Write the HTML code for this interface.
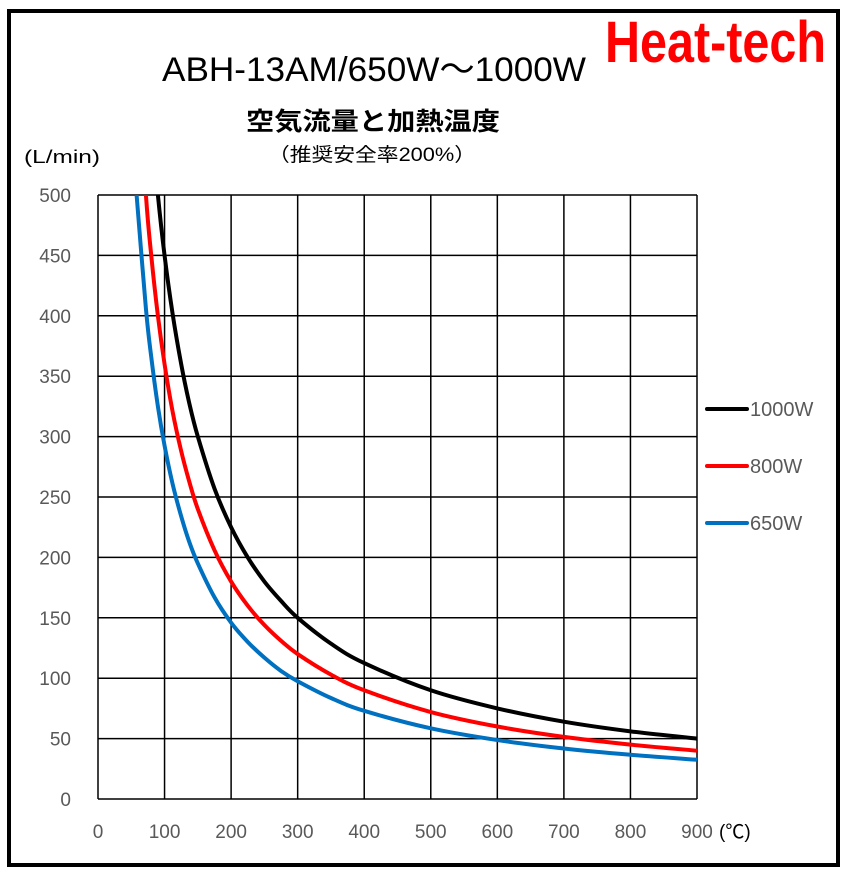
<!DOCTYPE html>
<html><head><meta charset="utf-8"><style>
html,body{margin:0;padding:0;background:#fff;}
body{width:847px;height:874px;overflow:hidden;position:relative;font-family:"Liberation Sans","Noto Sans CJK JP",sans-serif;}
</style></head><body>
<svg width="847" height="874" style="position:absolute;left:0;top:0">
<rect x="9" y="11" width="829" height="854" fill="#fff" stroke="#000" stroke-width="4"/>
<text x="605" y="62" font-family="Liberation Sans, sans-serif" font-weight="bold" font-size="58" fill="#ff0000" textLength="221" lengthAdjust="spacingAndGlyphs">Heat-tech</text>
<text x="162" y="81" font-size="34" fill="#000" textLength="424" lengthAdjust="spacingAndGlyphs">ABH-13AM/650W～1000W</text>
<text x="246" y="130" font-size="25" font-weight="bold" fill="#000" textLength="254" lengthAdjust="spacingAndGlyphs" font-family="Liberation Sans, Noto Sans CJK JP, sans-serif">空気流量と加熱温度</text>
<text x="268" y="161" font-size="19" fill="#000" textLength="208" lengthAdjust="spacingAndGlyphs" font-family="Liberation Sans, Noto Sans CJK JP, sans-serif">（推奨安全率200%）</text>
<text x="24" y="163" font-size="18" fill="#000" textLength="76" lengthAdjust="spacingAndGlyphs">(L/min)</text>
<g id="grid"></g>
<g id="marks"></g>
<g id="legend"></g>
<text x="719" y="838" font-size="19" fill="#000">(℃)</text>
</svg>
<script>
const xTicks=[0,100,200,300,400,500,600,700,800,900];
const yTicks=[0,50,100,150,200,250,300,350,400,450,500];
const temps=[58,72,80,90,100,112,125,137,150,175,200,225,250,275,300,350,400,500,600,700,800,900];
const s1000=[776,625,562,500,450,402,360,328,300,257,225,200,180,164,150,128.6,112.5,90,75,64,56,50];
const s800=[621,500,450,400,360,321,288,263,240,206,180,160,144,131,120,103,90,72,60,51.4,45,40];
const s650=[500,406,366,325,292.5,261,234,213,195,167,146,130,117,106,97.5,83.6,73,58.5,48.8,41.8,36.6,32.5];
const seriesNames=['1000W','800W','650W'];
const seriesData=[s1000,s800,s650];
const colors=['#000000','#ff0000','#0070c0'];
const X0=98,X1=697,Y0=799,Y1=195;
const sx=v=>X0+(v/900)*(X1-X0);
const sy=v=>Y0-(v/500)*(Y0-Y1);
const NS='http://www.w3.org/2000/svg';
const grid=document.getElementById('grid');
xTicks.forEach(t=>{
  const l=document.createElementNS(NS,'line');
  l.setAttribute('x1',sx(t));l.setAttribute('x2',sx(t));l.setAttribute('y1',Y1);l.setAttribute('y2',Y0);
  l.setAttribute('stroke','#000');l.setAttribute('stroke-width','1.5');
  
  
  grid.appendChild(l);
  const tx=document.createElementNS(NS,'text');
  tx.setAttribute('x',sx(t));tx.setAttribute('y',838);tx.setAttribute('text-anchor','middle');
  tx.setAttribute('font-size','19');tx.setAttribute('fill','#595959');tx.textContent=t;
  
  
  grid.appendChild(tx);
});
yTicks.forEach(t=>{
  const l=document.createElementNS(NS,'line');
  l.setAttribute('x1',X0);l.setAttribute('x2',X1);l.setAttribute('y1',sy(t));l.setAttribute('y2',sy(t));
  l.setAttribute('stroke','#000');l.setAttribute('stroke-width','1.5');
  
  
  grid.appendChild(l);
  const tx=document.createElementNS(NS,'text');
  tx.setAttribute('x',71);tx.setAttribute('y',sy(t)+7);tx.setAttribute('text-anchor','end');
  tx.setAttribute('font-size','19');tx.setAttribute('fill','#595959');tx.textContent=t;
  
  
  grid.appendChild(tx);
});
const marks=document.getElementById('marks');
const defs=document.createElementNS(NS,'clipPath');defs.setAttribute('id','clip');
const cr=document.createElementNS(NS,'rect');cr.setAttribute('x',X0);cr.setAttribute('y',Y1);cr.setAttribute('width',X1-X0+3);cr.setAttribute('height',Y0-Y1);
defs.appendChild(cr);marks.appendChild(defs);
seriesData.forEach((d,i)=>{
  const pts=temps.map((t,j)=>[sx(t),sy(d[j])]);
  let p='M'+pts[0][0]+','+pts[0][1];
  for(let j=1;j<pts.length;j++){
    const p0=pts[Math.max(0,j-2)],p1=pts[j-1],p2=pts[j],p3=pts[Math.min(pts.length-1,j+1)];
    const c1=[p1[0]+(p2[0]-p0[0])/6,p1[1]+(p2[1]-p0[1])/6];
    const c2=[p2[0]-(p3[0]-p1[0])/6,p2[1]-(p3[1]-p1[1])/6];
    p+=' C'+c1+' '+c2+' '+p2;
  }
  const path=document.createElementNS(NS,'path');
  path.setAttribute('d',p);path.setAttribute('fill','none');path.setAttribute('stroke',colors[i]);
  path.setAttribute('stroke-width','4');path.setAttribute('clip-path','url(#clip)');
  
  
  marks.appendChild(path);
});
const legend=document.getElementById('legend');
seriesNames.forEach((n,i)=>{
  const y=409+i*57;
  const l=document.createElementNS(NS,'line');
  l.setAttribute('x1',707);l.setAttribute('x2',747);l.setAttribute('y1',y);l.setAttribute('y2',y);
  l.setAttribute('stroke',colors[i]);l.setAttribute('stroke-width','4');l.setAttribute('stroke-linecap','round');
  
  
  legend.appendChild(l);
  const tx=document.createElementNS(NS,'text');
  tx.setAttribute('x',750);tx.setAttribute('y',y+7);tx.setAttribute('font-size','20');tx.setAttribute('fill','#595959');
  tx.textContent=n;
  
  
  legend.appendChild(tx);
});
</script>
</body></html>
